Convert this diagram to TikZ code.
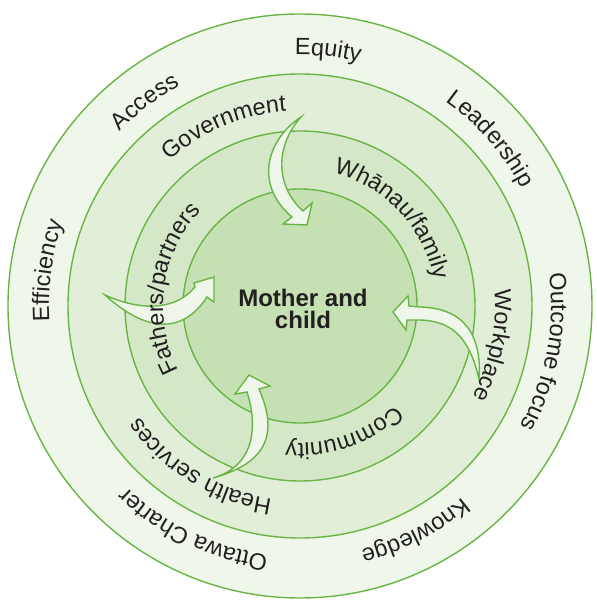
\documentclass[tikz,border=0pt]{standalone}
\usepackage{fontspec}
\setmainfont{Liberation Sans}
\usepackage{tikz}
\usetikzlibrary{decorations.text}

\definecolor{ringline}{HTML}{6AB446}
\definecolor{ringA}{HTML}{EFF6EA}
\definecolor{ringB}{HTML}{E2EFD8}
\definecolor{ringC}{HTML}{D4E8C8}
\definecolor{ringD}{HTML}{C5E0B3}
\definecolor{labelink}{HTML}{231F20}
\newcommand{\ringtext}{\fontsize{23.5}{23.5}\selectfont\color{labelink}}

\begin{document}
\begin{tikzpicture}[x=1pt,y=1pt]
                \tikzstyle{ring}=[draw=ringline, line width=1.4pt]
                \tikzstyle{flow}=[draw=ringline, fill=ringA, line width=1.4pt, line join=miter]
                \useasboundingbox (-300,-295) rectangle (296,306);

                \foreach \rad/\col in {292/ringA, 232/ringB, 175/ringC, 117/ringD}
                \path[ring, fill=\col] (0,0) circle (\rad);

                \path[flow] (1,189) .. controls (-35,165) and (-45,120) .. (-8,89) -- (-17,82) -- (7,81) -- (12,103) -- (3,95) .. controls (-25,120) and (-25,160) .. (1,189) -- cycle;
                \path[flow] (179,-73) .. controls (182,-30) and (165,-2) .. (120,-1) -- (109,0) -- (108,10) -- (93,-6) -- (106,-24) -- (107,-14) -- (120,-14) .. controls (155,-15) and (170,-35) .. (179,-73) -- cycle;
                \path[flow] (-87,-172) .. controls (-45,-160) and (-42,-120) .. (-53,-86) -- (-65,-88) -- (-51,-69) -- (-30,-80) -- (-41,-83) .. controls (-25,-120) and (-25,-155) .. (-87,-172) -- cycle;
                \path[flow] (-195,11) .. controls (-160,-5) and (-125,-5) .. (-105,19) -- (-106,23) -- (-86,29) -- (-86,4) -- (-93,9) .. controls (-115,-25) and (-150,-30) .. (-195,11) -- cycle;

                \foreach \rad/\ang/\lbl in {251/83.7/Equity, 251/127.2/Access, 251/41.2/Leadership, 251/-10.6/Outcome focus, 251/-62.8/Knowledge, 251/-115.5/Ottawa Charter, 251/172/Efficiency, 195/113/Government, 195/-11.5/Workplace, 195/-121.8/Health services, 137/43.4/{Whānau/family}, 137/-71/Community, 137/172/{Fathers/partners}}
                \path[decorate, decoration={text along path, text align=center, text/.expanded={|\noexpand\ringtext|\lbl}}] (\ang+60:\rad) arc[start angle=\ang+60, end angle=\ang-60, radius=\rad];

                \node[font=\bfseries\fontsize{24}{22}\selectfont, text=labelink, align=center, inner sep=0pt] (mc) at (3,-3) {Mother and\\child};
            \end{tikzpicture}
\end{document}
